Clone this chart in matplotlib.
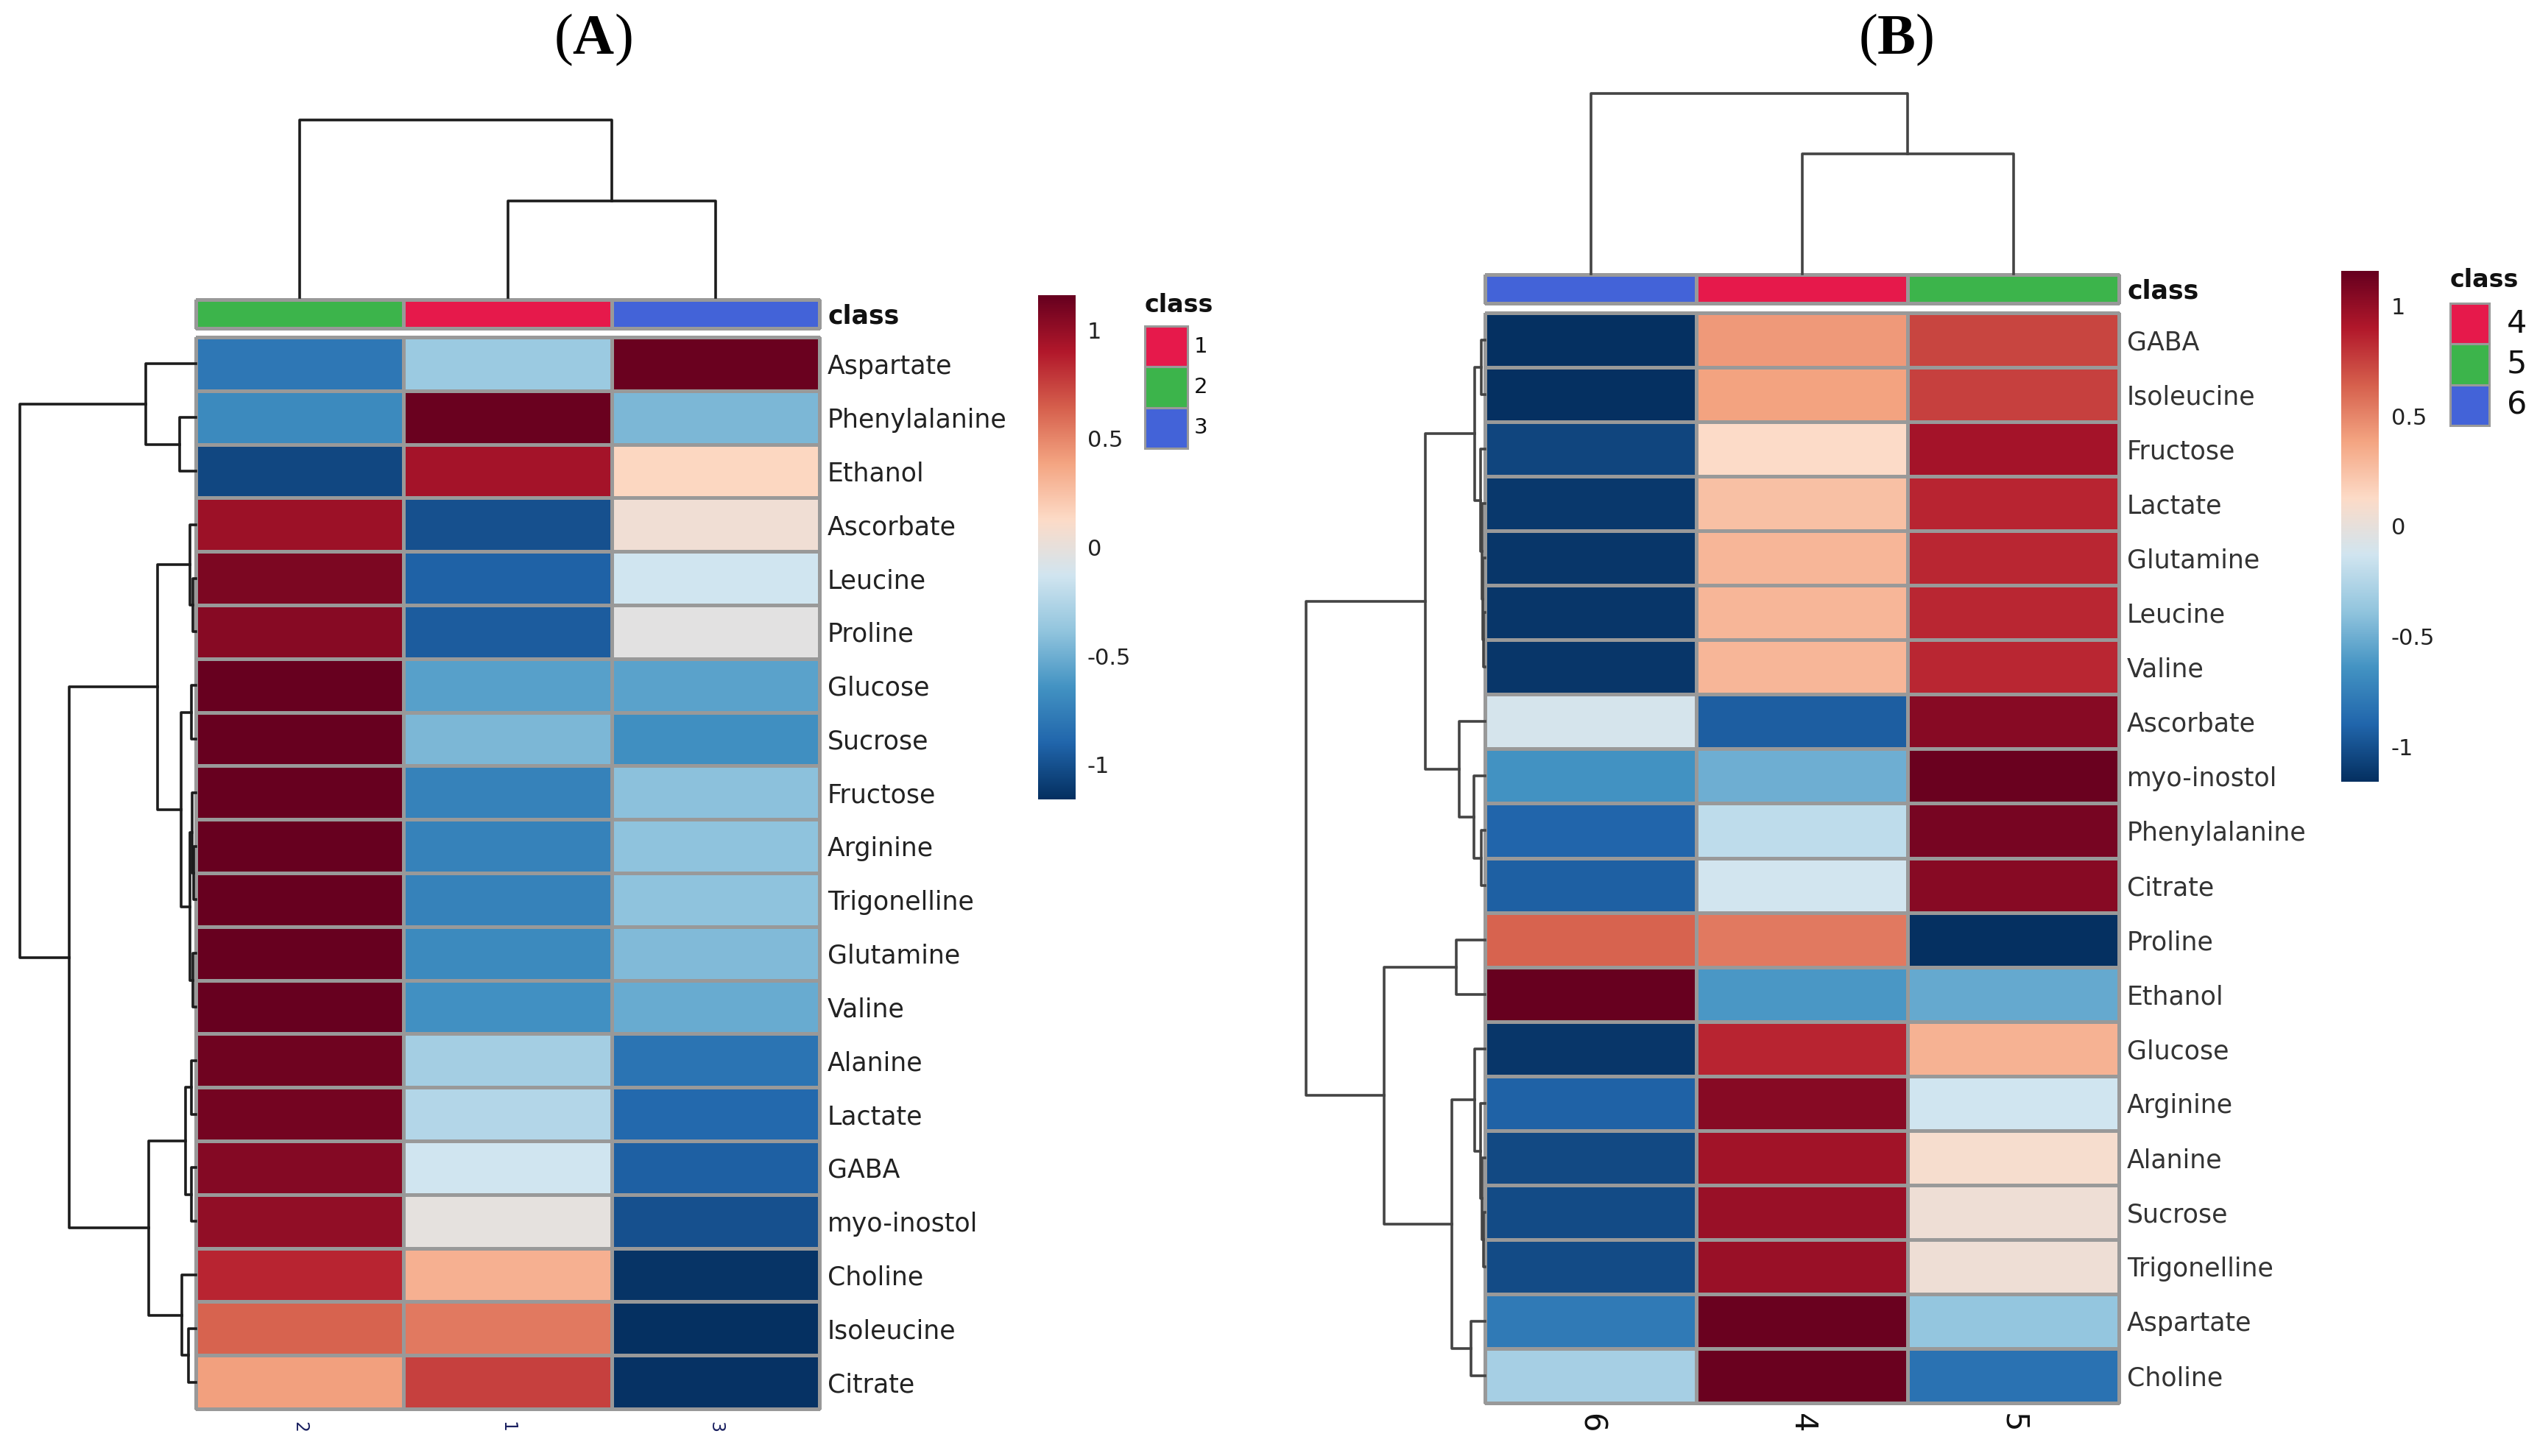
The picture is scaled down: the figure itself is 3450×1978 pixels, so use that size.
import numpy as np
import matplotlib
matplotlib.use("Agg")
import matplotlib.pyplot as plt
from matplotlib.colors import Normalize, ListedColormap, LinearSegmentedColormap
from matplotlib.patches import Rectangle

plt.rcParams["mathtext.fontset"] = "custom"
plt.rcParams["mathtext.rm"] = "Liberation Serif"
plt.rcParams["mathtext.bf"] = "Liberation Serif:bold"

# ---------------- data ----------------
class_colors = {"1": "#E6194B", "2": "#3CB44B", "3": "#4363D8",
                "4": "#E6194B", "5": "#3CB44B", "6": "#4363D8"}

cols_A = ["2", "1", "3"]
rows_A = ["Aspartate", "Phenylalanine", "Ethanol", "Ascorbate", "Leucine", "Proline",
          "Glucose", "Sucrose", "Fructose", "Arginine", "Trigonelline", "Glutamine",
          "Valine", "Alanine", "Lactate", "GABA", "myo-inostol", "Choline",
          "Isoleucine", "Citrate"]
vals_A = [
    [-0.80, -0.35, 1.15],
    [-0.69, 1.15, -0.46],
    [-1.05, 0.95, 0.15],
    [0.97, -1.00, 0.05],
    [1.08, -0.92, -0.13],
    [1.05, -0.95, -0.03],
    [1.16, -0.58, -0.57],
    [1.16, -0.46, -0.67],
    [1.16, -0.74, -0.40],
    [1.16, -0.74, -0.39],
    [1.16, -0.74, -0.39],
    [1.16, -0.69, -0.44],
    [1.16, -0.66, -0.52],
    [1.13, -0.31, -0.82],
    [1.11, -0.25, -0.88],
    [1.06, -0.13, -0.93],
    [1.01, -0.01, -1.00],
    [0.86, 0.33, -1.14],
    [0.63, 0.55, -1.16],
    [0.40, 0.76, -1.15],
]
legend_A = ["1", "2", "3"]

cols_B = ["6", "4", "5"]
rows_B = ["GABA", "Isoleucine", "Fructose", "Lactate", "Glutamine", "Leucine", "Valine",
          "Ascorbate", "myo-inostol", "Phenylalanine", "Citrate", "Proline", "Ethanol",
          "Glucose", "Arginine", "Alanine", "Sucrose", "Trigonelline", "Aspartate",
          "Choline"]
vals_B = [
    [-1.16, 0.43, 0.74],
    [-1.16, 0.39, 0.76],
    [-1.06, 0.12, 0.95],
    [-1.12, 0.26, 0.86],
    [-1.13, 0.30, 0.85],
    [-1.13, 0.30, 0.85],
    [-1.13, 0.30, 0.85],
    [-0.10, -0.94, 1.05],
    [-0.65, -0.50, 1.15],
    [-0.90, -0.20, 1.10],
    [-0.93, -0.12, 1.05],
    [0.63, 0.55, -1.16],
    [1.16, -0.62, -0.53],
    [-1.13, 0.86, 0.32],
    [-0.92, 1.05, -0.13],
    [-1.04, 0.96, 0.09],
    [-1.03, 0.98, 0.04],
    [-1.03, 0.98, 0.04],
    [-0.78, 1.15, -0.38],
    [-0.30, 1.15, -0.83],
]
legend_B = ["4", "5", "6"]

# dendrograms: [left, right, merge height]; ints are leaf indices in display order
rowtree_A = [[0, [1, 2, 22], 68],
             [[[3, [4, 5, 4], 8],
               [[6, 7, 6], [[8, [9, 10, 3], 5], [11, 12, 4], 8], 20], 52],
              [[[13, 14, 6], [15, 16, 6], 14], [17, [18, 19, 10], 19], 64], 172],
             239]
coltree_A = [0, [1, 2, 130], 239]

rowtree_B = [[[[0, 1, 5], [2, [3, [4, [5, 6, 2], 3], 4], 6], 14],
              [7, [8, [9, 10, 5], 15], 35], 81],
             [[11, 12, 39],
              [[13, [14, [15, [16, 17, 2], 4], 6], 14], [18, 19, 19], 45], 137],
             243]
coltree_B = [0, [1, 2, 162], 243]

cb_ticks = [1, 0.5, 0, -0.5, -1]
cb_ticklabels = ["1", "0.5", "0", "-0.5", "-1"]

# ---------------- figure ----------------
W, H = 3450, 1978
fig = plt.figure(figsize=(W / 100, H / 100), dpi=100)
fig.patch.set_facecolor("white")

rdbu10 = ["#67001F", "#B2182B", "#D6604D", "#F4A582", "#FDDBC7",
          "#D1E5F0", "#92C5DE", "#4393C3", "#2166AC", "#053061"][::-1]
cmap = LinearSegmentedColormap.from_list("rdbu10", rdbu10, N=256)
norm = Normalize(vmin=-1.16, vmax=1.16)
GRID = "#999999"


def px_axes(x0, y0, x1, y1):
    return fig.add_axes([x0 / W, 1 - y1 / H, (x1 - x0) / W, (y1 - y0) / H])


def draw_tree(ax, node, orient, color, lw):
    if isinstance(node, int):
        return node + 0.5, 0.0
    left, right, h = node
    p1, h1 = draw_tree(ax, left, orient, color, lw)
    p2, h2 = draw_tree(ax, right, orient, color, lw)
    kw = dict(color=color, lw=lw, solid_capstyle="projecting", clip_on=False)
    if orient == "row":
        ax.plot([h1, h, h, h2], [p1, p1, p2, p2], **kw)
    else:
        ax.plot([p1, p1, p2, p2], [h1, h, h, h2], **kw)
    return (p1 + p2) / 2, h


def panel(vals, rows, cols, rowtree, coltree, hm, cbar, cdend, rdend,
          dcolor, lab_fs, lab_color, col_fs, col_color, col_pad):
    data = np.array(vals)
    nr, nc = data.shape
    hx0, hy0, hx1, hy1 = hm
    # heatmap
    ax = px_axes(hx0, hy0, hx1, hy1)
    mesh = ax.pcolormesh(np.arange(nc + 1), np.arange(nr + 1), data, cmap=cmap, norm=norm,
                         edgecolors=GRID, linewidth=2.2)
    mesh.set_clip_on(False)
    ax.set_xlim(0, nc)
    ax.set_ylim(nr, 0)
    for s in ax.spines.values():
        s.set_visible(False)
    ax.yaxis.tick_right()
    ax.set_yticks(np.arange(nr) + 0.5)
    ax.set_yticklabels(rows, fontsize=lab_fs, color=lab_color)
    ax.set_xticks(np.arange(nc) + 0.5)
    ax.set_xticklabels(cols, fontsize=col_fs, color=col_color, rotation=270, va="top")
    ax.tick_params(length=0, pad=8)
    ax.tick_params(axis="x", pad=col_pad)
    # class bar
    cx0, cy0, cx1, cy1 = cbar
    axc = px_axes(cx0, cy0, cx1, cy1)
    ccols = ListedColormap([class_colors[c] for c in cols])
    m2 = axc.pcolormesh(np.arange(nc + 1), [0, 1], np.arange(nc).reshape(1, -1), cmap=ccols,
                        vmin=-0.5, vmax=nc - 0.5, edgecolors=GRID, linewidth=2.2)
    m2.set_clip_on(False)
    axc.set_xlim(0, nc)
    axc.set_ylim(1, 0)
    axc.set_xticks([])
    axc.yaxis.tick_right()
    axc.set_yticks([0.5])
    axc.set_yticklabels(["class"], fontsize=lab_fs, fontweight="bold", color="#111111")
    axc.tick_params(length=0, pad=8)
    for s in axc.spines.values():
        s.set_visible(False)
    # column dendrogram
    axd = px_axes(*cdend)
    draw_tree(axd, coltree, "col", dcolor, 2.6)
    axd.set_xlim(0, nc)
    axd.set_ylim(0, coltree[2])
    axd.axis("off")
    # row dendrogram
    axr = px_axes(*rdend)
    draw_tree(axr, rowtree, "row", dcolor, 2.6)
    axr.set_xlim(rowtree[2], 0)
    axr.set_ylim(nr, 0)
    axr.axis("off")


panel(vals_A, rows_A, cols_A, rowtree_A, coltree_A,
      hm=(266, 458, 1113, 1914), cbar=(266, 407, 1113, 446),
      cdend=(266, 163, 1113, 404), rdend=(27, 458, 266, 1914),
      dcolor="#1c1c1c", lab_fs=25, lab_color="#222222",
      col_fs=17, col_color="#1a2060", col_pad=12)

panel(vals_B, rows_B, cols_B, rowtree_B, coltree_B,
      hm=(2017, 425, 2878, 1906), cbar=(2017, 373, 2878, 412),
      cdend=(2017, 127, 2878, 372), rdend=(1774, 425, 2017, 1906),
      dcolor="#444444", lab_fs=25, lab_color="#333333",
      col_fs=30, col_color="#111111", col_pad=10)


# colorbars
def colorbar(box, fs):
    axb = px_axes(*box)
    grad = np.linspace(norm.vmin, norm.vmax, 256).reshape(-1, 1)
    axb.imshow(grad, cmap=cmap, norm=norm, origin="lower", aspect="auto",
               extent=[0, 1, norm.vmin, norm.vmax])
    axb.set_xticks([])
    axb.yaxis.tick_right()
    axb.set_yticks(cb_ticks)
    axb.set_yticklabels(cb_ticklabels, fontsize=fs, color="#222222")
    axb.tick_params(length=0, pad=12)
    for s in axb.spines.values():
        s.set_visible(False)


colorbar((1410, 401, 1460, 1086), 22)
colorbar((3180, 368, 3231, 1062), 22)

# overlay for titles and legends
ov = fig.add_axes([0, 0, 1, 1])
ov.set_xlim(0, W)
ov.set_ylim(H, 0)
ov.axis("off")

for cx, letter in [(805, "A"), (2575, "B")]:
    ov.text(cx, 54, "$\\mathrm{(}\\mathbf{" + letter + "}\\mathrm{)}$", ha="center", va="center",
            fontsize=56)


def legend(x0, ytitle, ytop, sw, sh, labels, fs, lab_x, title_fs):
    ov.text(x0, ytitle, "class", fontsize=title_fs, fontweight="bold", ha="left", va="center",
            color="#111111")
    for i, lab in enumerate(labels):
        ov.add_patch(Rectangle((x0, ytop + i * sh), sw, sh, facecolor=class_colors[lab],
                               edgecolor=GRID, linewidth=2.2))
        ov.text(lab_x, ytop + (i + 0.5) * sh, lab, fontsize=fs, ha="left", va="center",
                color="#111111")


legend(1555, 414, 443, 58, 55.3, legend_A, 21, 1622, 24)
legend(3328, 381, 412, 53, 55.3, legend_B, 31, 3405, 24)

fig.savefig("out.png", dpi=100, facecolor="white")
